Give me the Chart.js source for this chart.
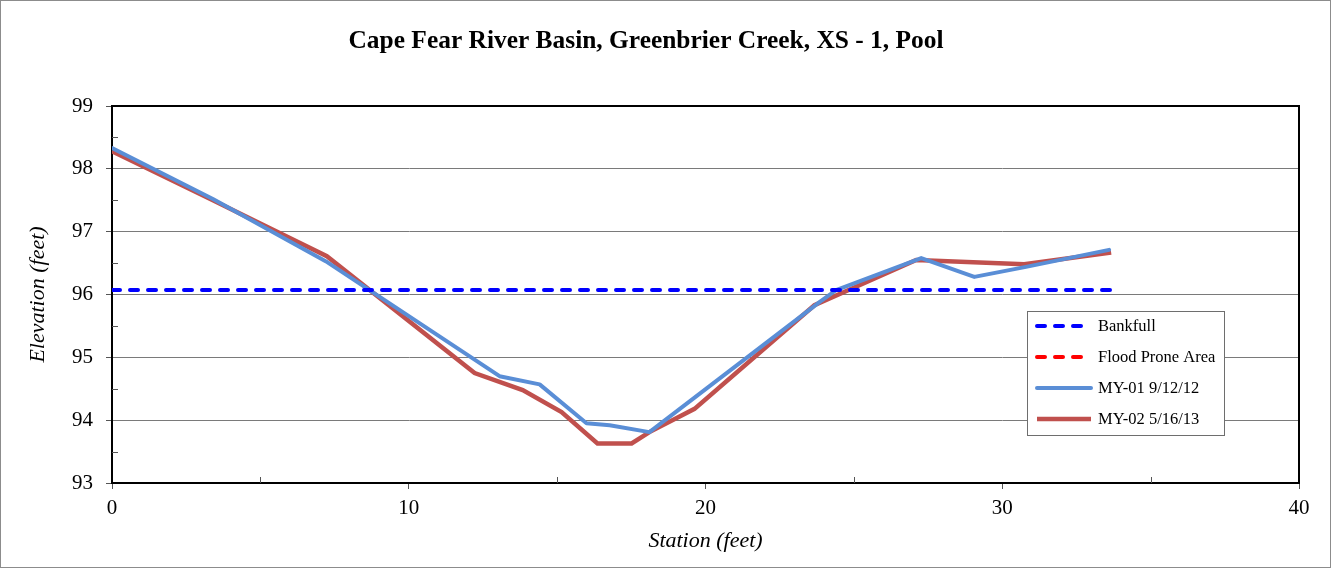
<!DOCTYPE html>
<html>
<head>
<meta charset="utf-8">
<script src="https://cdn.jsdelivr.net/npm/chart.js@4/dist/chart.umd.min.js"></script>
<style>
  html, body { margin: 0; padding: 0; background: #fff; }
  #wrap { width: 1331px; height: 568px; position: relative; }
</style>
</head>
<body>
<div id="wrap"><canvas id="xsChart"></canvas></div>
<script>
'use strict';

// ── Data ──────────────────────────────────────────────────────────────────────
const chartTitle = 'Cape Fear River Basin, Greenbrier Creek, XS - 1, Pool';

const bankfullStation = [0, 33.7];
const bankfullElev    = [96.07, 96.07];

const floodStation = [];
const floodElev    = [];

const my01Station = [0, 3.4, 7.2, 13.06, 14.41, 15.99, 16.77, 18.11, 23.84, 24.4, 27.27, 29.06, 30.8, 33.6];
const my01Elev    = [98.33, 97.52, 96.53, 94.70, 94.57, 93.95, 93.92, 93.81, 95.88, 96.07, 96.58, 96.28, 96.44, 96.71];

const my02Station = [0, 3.4, 7.24, 12.22, 13.84, 15.15, 16.36, 17.51, 18.11, 19.63, 23.67, 27.1, 30.74, 33.67];
const my02Elev    = [98.28, 97.50, 96.61, 94.75, 94.48, 94.13, 93.63, 93.63, 93.81, 94.18, 95.83, 96.55, 96.48, 96.67];

const xTicks = [0, 10, 20, 30, 40];
const yTicks = [93, 94, 95, 96, 97, 98, 99];

const toPoints = (xs, ys) => xs.map((x, i) => ({ x: x, y: ys[i] }));

const SERIF = '"Liberation Serif", "Times New Roman", serif';

// ── Plugin: frame, title, plot border, minor ticks, legend ───────────────────
const decorPlugin = {
  id: 'decor',
  beforeDraw(chart) {
    const ctx = chart.ctx;
    ctx.save();
    ctx.fillStyle = '#fff';
    ctx.fillRect(0, 0, chart.width, chart.height);
    ctx.restore();
  },
  afterDraw(chart) {
    const ctx = chart.ctx;
    const a = chart.chartArea;
    const xs = chart.scales.x, ys = chart.scales.y;
    ctx.save();

    // outer frame
    ctx.strokeStyle = '#8c8c8c';
    ctx.lineWidth = 1;
    ctx.strokeRect(0.5, 0.5, chart.width - 1, chart.height - 1);

    // title (slightly condensed, like the original)
    ctx.fillStyle = '#000';
    ctx.font = 'bold 26px ' + SERIF;
    ctx.textAlign = 'center';
    ctx.textBaseline = 'middle';
    ctx.fillText(chartTitle, 646, 41, 595);

    // top + right plot border
    ctx.strokeStyle = '#000';
    ctx.lineWidth = 2;
    ctx.beginPath();
    ctx.moveTo(a.left, a.top);
    ctx.lineTo(a.right, a.top);
    ctx.lineTo(a.right, a.bottom);
    ctx.stroke();

    // minor ticks, pointing inwards, half way between major ticks
    ctx.strokeStyle = '#555';
    ctx.lineWidth = 1;
    ctx.beginPath();
    for (let i = 0; i < yTicks.length - 1; i++) {
      const py = Math.round(ys.getPixelForValue((yTicks[i] + yTicks[i + 1]) / 2)) + 0.5;
      ctx.moveTo(a.left, py);
      ctx.lineTo(a.left + 6, py);
    }
    for (let i = 0; i < xTicks.length - 1; i++) {
      const px = Math.round(xs.getPixelForValue((xTicks[i] + xTicks[i + 1]) / 2)) + 0.5;
      ctx.moveTo(px, a.bottom);
      ctx.lineTo(px, a.bottom - 6);
    }
    ctx.stroke();

    // legend box
    const lx = 1027, ly = 311, lw = 197, lh = 124;
    ctx.fillStyle = '#fff';
    ctx.fillRect(lx, ly, lw, lh);
    ctx.strokeStyle = '#6e6e6e';
    ctx.lineWidth = 1;
    ctx.strokeRect(lx + 0.5, ly + 0.5, lw, lh);

    ctx.font = '16.5px ' + SERIF;
    ctx.textAlign = 'left';
    ctx.textBaseline = 'middle';
    chart.data.datasets.forEach((ds, i) => {
      const cy = 326 + i * 31;
      ctx.save();
      ctx.strokeStyle = ds.borderColor;
      ctx.lineWidth = ds.borderWidth;
      ctx.lineCap = ds.borderCapStyle || 'butt';
      ctx.setLineDash(ds.borderDash || []);
      ctx.beginPath();
      ctx.moveTo(1037, cy);
      ctx.lineTo(1091, cy);
      ctx.stroke();
      ctx.restore();
      ctx.fillStyle = '#000';
      ctx.fillText(ds.label, 1098, cy + 1);
    });

    ctx.restore();
  }
};

// ── Chart ─────────────────────────────────────────────────────────────────────
const ctx = document.getElementById('xsChart').getContext('2d');

new Chart(ctx, {
  type: 'scatter',
  data: {
    datasets: [
      {
        label: 'Bankfull',
        data: toPoints(bankfullStation, bankfullElev),
        borderColor: '#0000ff',
        borderWidth: 4,
        borderDash: [8, 10],
        borderCapStyle: 'round',
        showLine: true,
        pointRadius: 0
      },
      {
        label: 'Flood Prone Area',
        data: toPoints(floodStation, floodElev),
        borderColor: '#ff0000',
        borderWidth: 4,
        borderDash: [8, 10],
        borderCapStyle: 'round',
        showLine: true,
        pointRadius: 0
      },
      {
        label: 'MY-01 9/12/12',
        data: toPoints(my01Station, my01Elev),
        borderColor: '#5a8ed6',
        borderWidth: 4,
        borderCapStyle: 'round',
        borderJoinStyle: 'round',
        showLine: true,
        pointRadius: 0
      },
      {
        label: 'MY-02 5/16/13',
        data: toPoints(my02Station, my02Elev),
        borderColor: '#c0504d',
        borderWidth: 4.5,
        showLine: true,
        pointRadius: 0
      }
    ]
  },
  options: {
    responsive: true,
    maintainAspectRatio: false,
    animation: false,
    layout: { padding: { left: 0, right: 32, top: 106, bottom: 0 } },
    plugins: {
      legend: { display: false },
      title: { display: false },
      tooltip: { enabled: false }
    },
    scales: {
      x: {
        type: 'linear',
        min: 0,
        max: 40,
        afterFit: s => { s.height = 85; },
        afterBuildTicks: s => { s.ticks = xTicks.map(v => ({ value: v })); },
        border: { color: '#000', width: 2 },
        grid: { drawOnChartArea: false, tickLength: 6, tickColor: '#555' },
        ticks: {
          autoSkip: false,
          maxRotation: 0,
          padding: 7,
          color: '#000',
          font: { family: SERIF, size: 21 }
        },
        title: {
          display: true,
          text: 'Station (feet)',
          color: '#000',
          font: { family: SERIF, size: 22, style: 'italic' },
          padding: { bottom: 14 }
        }
      },
      y: {
        type: 'linear',
        min: 93,
        max: 99,
        afterFit: s => { s.width = 112; },
        afterBuildTicks: s => { s.ticks = yTicks.map(v => ({ value: v })); },
        border: { color: '#000', width: 2 },
        grid: {
          tickLength: 6,
          tickColor: '#555',
          color: '#7a7a7a'
        },
        ticks: {
          autoSkip: false,
          padding: 13,
          color: '#000',
          font: { family: SERIF, size: 21 }
        },
        title: {
          display: true,
          text: 'Elevation (feet)',
          color: '#000',
          font: { family: SERIF, size: 22, style: 'italic' },
          padding: { top: 25 }
        }
      }
    }
  },
  plugins: [decorPlugin]
});
</script>
</body>
</html>
